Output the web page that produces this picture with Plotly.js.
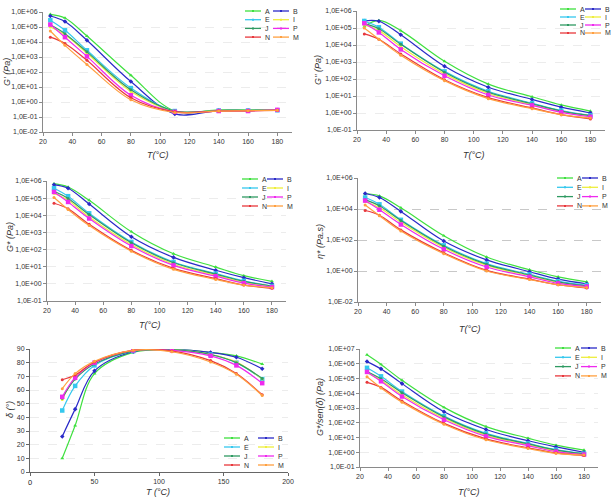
<!DOCTYPE html>
<html>
<head>
<meta charset="utf-8">
<script src="https://cdn.plot.ly/plotly-3.0.1.min.js"></script>
<style>
  html, body { margin: 0; padding: 0; background: #fff; }
  #chart { width: 614px; height: 497px; }
</style>
</head>
<body>
<div id="chart"></div>
<script>
// Test temperatures (°C)
const temps = [25, 35, 50, 80, 110, 140, 160, 180];

// Sample names and their colours
const samples = ['A', 'B', 'E', 'I', 'J', 'P', 'N', 'M'];
const sampleColors = ['#3fe03f', '#2a2ac8', '#35c8ee', '#eeee3c', '#2f9a62', '#ee2aee', '#e8383c', '#ffa040'];

// G' storage modulus (Pa)
const storageA = [7e5, 4e5, 2.5e4, 60, 0.25, 0.3, 0.3, 0.3];
const storageB = [5.4e5, 2.3e5, 1.3e4, 23, 0.16, 0.27, 0.27, 0.29];
const storageE = [2.8e5, 6e4, 2.8e3, 8.5, 0.25, 0.27, 0.27, 0.28];
const storageI = [1e5, 3e4, 1.8e3, 5, 0.24, 0.27, 0.27, 0.28];
const storageJ = [1.4e5, 3.6e4, 2.2e3, 6.5, 0.25, 0.27, 0.27, 0.28];
const storageP = [1.45e5, 2.1e4, 1.1e3, 2.8, 0.22, 0.25, 0.25, 0.3];
const storageN = [2.1e4, 8e3, 600, 1.9, 0.22, 0.25, 0.26, 0.28];
const storageM = [5.4e4, 6e3, 320, 1.4, 0.2, 0.25, 0.26, 0.28];

// G'' loss modulus (Pa)
const lossA = [1.2e5, 2.8e5, 7e4, 1.1e3, 50, 9, 3, 1.3];
const lossB = [2.6e5, 2.5e5, 4e4, 560, 33, 6.3, 2.2, 1.0];
const lossE = [2.6e5, 1.1e5, 1.2e4, 280, 19, 3.8, 1.4, 0.72];
const lossI = [1.5e5, 7e4, 8e3, 200, 14, 3, 1.2, 0.65];
const lossJ = [1.8e5, 9e4, 1.1e4, 250, 17, 3.5, 1.3, 0.7];
const lossP = [1.9e5, 5.5e4, 5.5e3, 155, 11.5, 2.8, 1.1, 0.6];
const lossN = [4.5e4, 2.2e4, 3e3, 90, 8, 2, 0.8, 0.45];
const lossM = [1e5, 2.2e4, 2.5e3, 80, 7, 1.8, 0.8, 0.5];

// G* complex modulus (Pa)
const complexA = [7e5, 4.5e5, 7.5e4, 1.1e3, 57, 9.5, 3, 1.4];
const complexB = [6e5, 3.8e5, 4.5e4, 560, 35, 6.2, 2.3, 1.0];
const complexE = [3.8e5, 1.3e5, 1.3e4, 280, 19, 4, 1.5, 0.75];
const complexI = [1.9e5, 7.5e4, 8e3, 200, 14, 3.2, 1.2, 0.7];
const complexJ = [2.5e5, 9.5e4, 1.1e4, 250, 17, 3.7, 1.4, 0.75];
const complexP = [2.3e5, 6e4, 6.5e3, 160, 12, 2.8, 1.1, 0.65];
const complexN = [5e4, 2.4e4, 3e3, 90, 8, 2, 0.85, 0.55];
const complexM = [1.1e5, 2.2e4, 2.5e3, 80, 7, 1.8, 0.85, 0.6];

// η* complex viscosity (Pa.s)
const viscA = [1e5, 7e4, 1.2e4, 190, 8, 1.2, 0.42, 0.2];
const viscB = [1e5, 5.5e4, 7e3, 85, 5.2, 0.9, 0.3, 0.15];
const viscE = [5.5e4, 2e4, 2e3, 45, 3, 0.6, 0.22, 0.12];
const viscI = [3e4, 1.2e4, 1.4e3, 33, 2.3, 0.5, 0.18, 0.1];
const viscJ = [4e4, 1.6e4, 1.8e3, 40, 2.7, 0.55, 0.2, 0.11];
const viscP = [3.5e4, 9e3, 1e3, 25, 1.8, 0.42, 0.16, 0.1];
const viscN = [8e3, 4e3, 450, 15, 1.1, 0.3, 0.13, 0.08];
const viscM = [1.8e4, 3.7e3, 380, 13, 1.0, 0.28, 0.13, 0.085];

// δ phase angle (°)
const phaseA = [10, 34, 72, 87.5, 89.5, 87.5, 85, 79];
const phaseB = [26, 46, 74, 88, 89.5, 87.5, 84, 75.5];
const phaseE = [45, 63, 78, 88.5, 89.5, 86, 80, 68];
const phaseI = [53, 69, 80, 89, 89.5, 86, 80.5, 68];
const phaseJ = [54, 68, 79, 88.5, 89.5, 86, 80, 68.5];
const phaseP = [55, 69, 80, 89, 89, 85, 78, 65];
const phaseN = [67.5, 71, 80.5, 89, 88.5, 81.5, 72, 56.5];
const phaseM = [61, 72, 81, 89, 88, 80.5, 71.5, 56];

// G*/sen(δ) (Pa)
const rutA = [4e6, 9e5, 7.5e4, 1.1e3, 55, 9, 3, 1.4];
const rutB = [1.4e6, 4.5e5, 4.5e4, 550, 35, 6, 2.3, 1.0];
const rutE = [5.3e5, 1.4e5, 1.3e4, 280, 19, 4, 1.5, 0.8];
const rutI = [2.5e5, 7.5e4, 8e3, 200, 14, 3.2, 1.2, 0.75];
const rutJ = [3e5, 9.5e4, 1.1e4, 250, 17, 3.7, 1.4, 0.8];
const rutP = [2.8e5, 6.5e4, 6e3, 160, 12, 2.8, 1.1, 0.7];
const rutN = [5.5e4, 2.5e4, 3e3, 90, 8, 2, 0.9, 0.6];
const rutM = [1.3e5, 2.3e4, 2.5e3, 80, 7, 1.8, 0.85, 0.65];

// Tick values and labels
const tempTicks = [20, 40, 60, 80, 100, 120, 140, 160, 180];
const tempTicks5 = [0, 50, 100, 150, 200];
const tempLabels5 = ['', '50', '100', '150', '200'];
const originLabel5 = '0';
const phaseTicks = [0, 10, 20, 30, 40, 50, 60, 70, 80, 90];
const logTicksA = [1e-2, 1e-1, 1, 1e1, 1e2, 1e3, 1e4, 1e5, 1e6];
const logLabelsA = ['1,0E-02', '1,0E-01', '1,0E+00', '1,0E+01', '1,0E+02', '1,0E+03', '1,0E+04', '1,0E+05', '1,0E+06'];
const logTicksB = [1e-1, 1, 1e1, 1e2, 1e3, 1e4, 1e5, 1e6];
const logLabelsB = ['1,0E-01', '1,0E+00', '1,0E+01', '1,0E+02', '1,0E+03', '1,0E+04', '1,0E+05', '1,0E+06'];
const logTicksC = [1e-2, 1, 1e2, 1e4, 1e6];
const logLabelsC = ['1,0E-02', '1,0E+00', '1,0E+02', '1,0E+04', '1,0E+06'];
const logTicksD = [1e-1, 1, 1e1, 1e2, 1e3, 1e4, 1e5, 1e6, 1e7];
const logLabelsD = ['1,0E-01', '1,0E+00', '1,0E+01', '1,0E+02', '1,0E+03', '1,0E+04', '1,0E+05', '1,0E+06', '1,0E+07'];

const W = 614, H = 497;
const fx = px => px / W;
const fy = py => 1 - py / H;
const FONT = 'Liberation Sans, Arial, sans-serif';

const markerSymbols = ['triangle-up', 'diamond', 'square', 'circle', 'circle', 'square', 'circle', 'circle'];
const markerSizes = [3.5, 3.5, 4.5, 3, 3, 4.5, 3, 3];

// Panel frames (pixel boxes), series and key placement
const panels = [
  { id: '', box: [43, 292, 12, 132], xr: [20, 190], xt: tempTicks, xl: null, yr: [-2, 6], log: true, yt: logTicksA, yl: logLabelsA,
    series: [storageA, storageB, storageE, storageI, storageJ, storageP, storageN, storageM],
    ytitle: "G' (Pa)", ytPos: [7, 72], xtitle: 'T(°C)', xtPos: [158, 155], leg: [245, 11, 8.7, 28], grid: '#ececec', axis: '#8a8a8a' },
  { id: '2', box: [357, 605, 11, 130], xr: [20, 190], xt: tempTicks, xl: null, yr: [-1, 6], log: true, yt: logTicksB, yl: logLabelsB,
    series: [lossA, lossB, lossE, lossI, lossJ, lossP, lossN, lossM],
    ytitle: "G'' (Pa)", ytPos: [318, 70], xtitle: 'T(°C)', xtPos: [474, 155], leg: [560, 9, 8, 25], grid: '#ececec', axis: '#8a8a8a' },
  { id: '3', box: [47, 286, 181, 301], xr: [20, 190], xt: tempTicks, xl: null, yr: [-1, 6], log: true, yt: logTicksB, yl: logLabelsB,
    series: [complexA, complexB, complexE, complexI, complexJ, complexP, complexN, complexM],
    ytitle: 'G* (Pa)', ytPos: [10, 237], xtitle: 'T(°C)', xtPos: [150, 325], leg: [242, 179, 9, 25], grid: '#ececec', axis: '#8a8a8a' },
  { id: '4', box: [358, 601, 178, 302], xr: [20, 190], xt: tempTicks, xl: null, yr: [-2, 6], log: true, yt: logTicksC, yl: logLabelsC,
    series: [viscA, viscB, viscE, viscI, viscJ, viscP, viscN, viscM],
    ytitle: 'η* (Pa.s)', ytPos: [320, 242], xtitle: 'T(°C)', xtPos: [470, 329], leg: [557, 178, 9.3, 25], grid: '#c8c8c8', axis: '#8a8a8a' },
  { id: '5', box: [30, 288, 349, 472], xr: [0, 200], xt: tempTicks5, xl: tempLabels5, yr: [0, 90], log: false, yt: phaseTicks, yl: null,
    series: [phaseA, phaseB, phaseE, phaseI, phaseJ, phaseP, phaseN, phaseM],
    ytitle: 'δ (°)', ytPos: [10, 410], xtitle: 'T (°C)', xtPos: [158, 492], leg: [224, 438, 9, 34], grid: '#ececec', axis: '#666' },
  { id: '6', box: [360, 598, 349, 467], xr: [20, 190], xt: tempTicks, xl: null, yr: [-1, 7], log: true, yt: logTicksD, yl: logLabelsD,
    series: [rutA, rutB, rutE, rutI, rutJ, rutP, rutN, rutM],
    ytitle: 'G*/sen(δ) (Pa)', ytPos: [320, 407], xtitle: 'T(°C)', xtPos: [469, 492], leg: [555, 348, 9.3, 26], grid: '#ececec', axis: '#8a8a8a' }
];

const traces = [];
const layout = {
  width: W, height: H,
  margin: { l: 0, r: 0, t: 0, b: 0 },
  paper_bgcolor: '#fff', plot_bgcolor: '#fff',
  showlegend: false,
  font: { family: FONT, size: 7, color: '#333' },
  shapes: [], annotations: []
};

panels.forEach(p => {
  const xa = 'xaxis' + p.id, ya = 'yaxis' + p.id;
  const [x0, x1, y0, y1] = p.box;
  const axisBase = {
    showline: true, linecolor: p.axis, linewidth: 1,
    ticks: 'outside', ticklen: 3, tickcolor: p.axis, tickwidth: 1,
    zeroline: false, fixedrange: true,
    tickfont: { family: FONT, size: 7, color: '#333' }
  };
  layout[xa] = Object.assign({}, axisBase, {
    domain: [fx(x0), fx(x1)], anchor: 'y' + p.id, range: p.xr,
    tickmode: 'array', tickvals: p.xt, showgrid: false
  });
  if (p.xl) layout[xa].ticktext = p.xl;
  layout[ya] = Object.assign({}, axisBase, {
    domain: [fy(y1), fy(y0)], anchor: 'x' + p.id,
    type: p.log ? 'log' : 'linear', range: p.yr,
    tickmode: 'array', tickvals: p.yt,
    showgrid: true, gridcolor: p.grid, griddash: 'dash', gridwidth: 1
  });
  if (p.yl) layout[ya].ticktext = p.yl;

  p.series.forEach((vals, i) => {
    traces.push({
      type: 'scatter', mode: 'lines+markers',
      name: samples[i], x: temps, y: vals,
      xaxis: 'x' + p.id, yaxis: 'y' + p.id,
      line: { color: sampleColors[i], width: 1.2, shape: 'spline', smoothing: 1 },
      marker: { color: sampleColors[i], size: markerSizes[i], symbol: markerSymbols[i] },
      hoverinfo: 'name+x+y'
    });
  });

  // Axis titles
  layout.annotations.push({
    xref: 'paper', yref: 'paper', x: fx(p.ytPos[0]), y: fy(p.ytPos[1]),
    text: p.ytitle, textangle: -90, showarrow: false,
    xanchor: 'center', yanchor: 'middle',
    font: { family: FONT, size: 9, color: '#333', style: 'italic' }
  });
  layout.annotations.push({
    xref: 'paper', yref: 'paper', x: fx(p.xtPos[0]), y: fy(p.xtPos[1]),
    text: p.xtitle, showarrow: false,
    xanchor: 'center', yanchor: 'middle',
    font: { family: FONT, size: 9, color: '#333', style: 'italic' }
  });

  // Two-column key: A B / E I / J P / N M
  const [lx, ly, dy, dx] = p.leg;
  samples.forEach((s, i) => {
    const cx = lx + (i % 2) * dx;
    const cy = ly + Math.floor(i / 2) * dy;
    layout.shapes.push({
      type: 'line', xref: 'paper', yref: 'paper',
      x0: fx(cx), x1: fx(cx + 16), y0: fy(cy), y1: fy(cy),
      line: { color: sampleColors[i], width: 1.3 }
    });
    layout.shapes.push({
      type: 'rect', xref: 'paper', yref: 'paper',
      x0: fx(cx + 7), x1: fx(cx + 9), y0: fy(cy + 1), y1: fy(cy - 1),
      fillcolor: sampleColors[i], line: { width: 0 }
    });
    layout.annotations.push({
      xref: 'paper', yref: 'paper', x: fx(cx + 18), y: fy(cy),
      text: s, showarrow: false, xanchor: 'left', yanchor: 'middle',
      font: { family: FONT, size: 7, color: '#333' }
    });
  });
});

// Origin label under the left end of the δ panel's temperature axis
layout.annotations.push({
  xref: 'paper', yref: 'paper', x: fx(30), y: fy(482),
  text: originLabel5, showarrow: false, xanchor: 'center', yanchor: 'middle',
  font: { family: FONT, size: 7.5, color: '#222' }
});

Plotly.newPlot('chart', traces, layout, { displayModeBar: false, staticPlot: true });
</script>
</body>
</html>
